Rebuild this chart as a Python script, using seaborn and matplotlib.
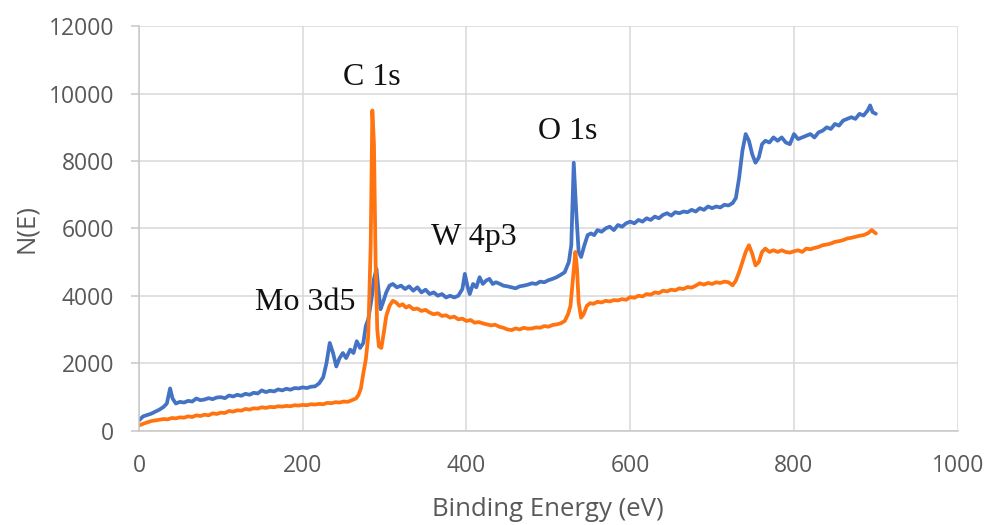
import numpy as np
import pandas as pd
import matplotlib
matplotlib.use("Agg")
import matplotlib.pyplot as plt
import seaborn as sns

# Espectro azul (amostra 1)
blue_ev = [0, 5, 10, 15, 20, 25, 30, 34, 38, 41, 45, 50, 55, 60, 65, 70, 75, 80, 85, 90,
           95, 100, 105, 110, 115, 120, 125, 130, 135, 140, 145, 150, 155, 160, 165, 170,
           175, 180, 185, 190, 195, 200, 205, 210, 215, 220, 225, 229, 233, 237, 241, 245,
           249, 253, 258, 262, 266, 270, 274, 277, 280, 284, 287, 290, 292, 295, 298, 302,
           306, 310, 315, 320, 325, 330, 335, 340, 345, 350, 355, 360, 365, 370, 375, 380,
           385, 390, 395, 398, 401, 404, 408, 412, 416, 420, 424, 428, 432, 436, 441, 445,
           450, 455, 460, 465, 470, 475, 480, 485, 490, 495, 500, 505, 510, 515, 520, 525,
           528, 531, 534, 537, 540, 544, 548, 552, 556, 560, 565, 570, 575, 580, 585, 590,
           595, 600, 605, 610, 615, 620, 625, 630, 635, 640, 645, 650, 655, 660, 665, 670,
           675, 680, 685, 690, 695, 700, 705, 710, 715, 720, 725, 729, 733, 737, 741, 745,
           749, 753, 757, 761, 765, 770, 775, 780, 785, 790, 795, 800, 805, 810, 815, 820,
           825, 830, 835, 840, 845, 850, 855, 860, 865, 870, 875, 880, 885, 890, 893, 896, 900]
blue_counts = [300, 420, 460, 500, 560, 620, 700, 800, 1250, 950, 800, 850, 830, 880, 860, 950,
               900, 920, 960, 930, 980, 990, 960, 1040, 1010, 1060, 1030, 1090, 1060, 1120,
               1100, 1190, 1140, 1180, 1160, 1220, 1190, 1240, 1210, 1260, 1250, 1280, 1260,
               1300, 1310, 1400, 1580, 2000, 2600, 2300, 1900, 2150, 2300, 2150, 2400, 2300,
               2650, 2450, 2600, 3100, 3300, 3900, 4500, 4800, 4300, 3600, 3800, 4100, 4300,
               4350, 4250, 4300, 4200, 4280, 4150, 4250, 4100, 4180, 4050, 4100, 4000, 4050,
               3950, 4000, 3950, 4000, 4200, 4650, 4300, 4050, 4350, 4250, 4550, 4350, 4450,
               4500, 4350, 4400, 4350, 4300, 4280, 4250, 4220, 4280, 4300, 4330, 4370, 4350,
               4420, 4400, 4460, 4500, 4550, 4620, 4700, 5000, 5500, 7950, 6500, 5300, 5150,
               5500, 5800, 5850, 5800, 5950, 5900, 6000, 6050, 5950, 6100, 6050, 6150, 6200,
               6150, 6250, 6200, 6300, 6250, 6350, 6300, 6400, 6450, 6380, 6480, 6450, 6500,
               6480, 6550, 6500, 6600, 6550, 6650, 6600, 6650, 6620, 6700, 6680, 6750, 6900,
               7500, 8300, 8800, 8600, 8200, 7950, 8100, 8500, 8600, 8550, 8700, 8600, 8700,
               8550, 8500, 8800, 8650, 8700, 8750, 8800, 8700, 8850, 8900, 9000, 8950, 9100,
               9050, 9200, 9250, 9300, 9250, 9400, 9350, 9500, 9650, 9450, 9400]

# Espectro laranja (amostra 2)
orange_ev = [0, 5, 10, 15, 20, 25, 30, 35, 40, 45, 50, 55, 60, 65, 70, 75, 80, 85, 90, 95,
             100, 105, 110, 115, 120, 125, 130, 135, 140, 145, 150, 155, 160, 165, 170, 175,
             180, 185, 190, 195, 200, 205, 210, 215, 220, 225, 230, 235, 240, 245, 250, 255,
             260, 265, 268, 271, 274, 277, 280, 283, 285, 287, 289, 291, 293, 296, 299, 302,
             306, 310, 314, 318, 322, 326, 330, 335, 340, 345, 350, 355, 360, 365, 370, 375,
             380, 385, 390, 395, 400, 405, 410, 415, 420, 425, 430, 435, 440, 445, 450, 455,
             460, 465, 470, 475, 480, 485, 490, 495, 500, 505, 510, 515, 520, 524, 527, 530,
             533, 535, 537, 540, 543, 547, 551, 555, 560, 565, 570, 575, 580, 585, 590, 595,
             600, 605, 610, 615, 620, 625, 630, 635, 640, 645, 650, 655, 660, 665, 670, 675,
             680, 685, 690, 695, 700, 705, 710, 715, 720, 725, 729, 733, 737, 741, 745, 749,
             753, 757, 761, 765, 770, 775, 780, 785, 790, 795, 800, 805, 810, 815, 820, 825,
             830, 835, 840, 845, 850, 855, 860, 865, 870, 875, 880, 885, 890, 895, 900]
orange_counts = [150, 200, 240, 280, 300, 320, 340, 330, 370, 360, 390, 380, 420, 400, 450,
                 430, 470, 450, 510, 490, 530, 520, 580, 560, 600, 590, 640, 620, 660, 650,
                 690, 670, 700, 690, 720, 710, 730, 720, 750, 740, 760, 750, 780, 770, 790,
                 780, 820, 810, 840, 830, 860, 850, 900, 950, 1050, 1250, 1700, 2100, 2800,
                 5500, 9500, 8500, 5000, 3000, 2500, 2450, 2900, 3400, 3700, 3850, 3800, 3700,
                 3750, 3650, 3700, 3600, 3620, 3550, 3580, 3500, 3450, 3480, 3400, 3420, 3350,
                 3380, 3300, 3320, 3250, 3280, 3200, 3220, 3180, 3150, 3120, 3140, 3080, 3050,
                 3000, 2980, 3030, 3000, 3050, 3020, 3030, 3060, 3050, 3100, 3080, 3130, 3150,
                 3180, 3250, 3450, 3700, 4500, 5300, 4800, 3800, 3350, 3450, 3700, 3780, 3760,
                 3820, 3800, 3850, 3830, 3870, 3860, 3900, 3880, 3960, 3940, 4000, 3980, 4050,
                 4030, 4100, 4080, 4150, 4130, 4180, 4160, 4220, 4200, 4260, 4240, 4300, 4370,
                 4330, 4380, 4350, 4400, 4380, 4420, 4400, 4310, 4450, 4700, 5000, 5300, 5500,
                 5250, 4900, 5000, 5300, 5400, 5300, 5350, 5300, 5350, 5300, 5280, 5320, 5350,
                 5300, 5400, 5380, 5420, 5450, 5500, 5520, 5550, 5600, 5620, 5650, 5700, 5720,
                 5750, 5780, 5800, 5850, 5950, 5850]

# Rotulos dos picos
pico_nomes = ["C 1s", "O 1s", "W 4p3", "Mo 3d5"]
pico_x = [284.5, 524, 409, 203]
pico_y = [10250, 8650, 5500, 3570]

sns.set_theme(style="white")
plt.rcParams["font.family"] = ["Open Sans", "DejaVu Sans"]

fig = plt.figure(figsize=(9.9, 5.25), dpi=100)
ax = fig.add_axes([0.1404, 0.180, 0.827, 0.770])

sns.lineplot(x=blue_ev, y=blue_counts, color="#4472C4", linewidth=2.7, ax=ax, estimator=None)
sns.lineplot(x=orange_ev, y=orange_counts, color="#FF7410", linewidth=2.7, ax=ax, estimator=None)

for nome, px, py in zip(pico_nomes, pico_x, pico_y):
    ax.text(px, py, nome, ha="center", va="baseline", fontsize=23,
            family=["Liberation Serif", "DejaVu Serif"], color="#111111")

ax.set_xlim(0, 1000)
ax.set_ylim(0, 12000)
ax.set_xticks(np.arange(0, 1001, 200))
ax.set_yticks(np.arange(0, 12001, 2000))
ax.grid(True, color="#d9d9d9", linewidth=1.1)
ax.set_axisbelow(True)

for s in ["top", "right"]:
    ax.spines[s].set_visible(False)
for s in ["left", "bottom"]:
    ax.spines[s].set_color("#c8c8c8")
    ax.spines[s].set_linewidth(1.1)

ax.tick_params(axis="y", length=6, width=1.1, color="#c8c8c8", pad=12,
               labelsize=16.5, labelcolor="#595959", left=True)
ax.tick_params(axis="x", length=0, pad=17, labelsize=16.5, labelcolor="#595959")

ax.set_xlabel("Binding Energy (eV)", fontsize=18.5, color="#595959")
ax.set_ylabel("N(E)", fontsize=18.5, color="#595959")
ax.xaxis.set_label_coords(0.5, -0.1965)
ax.xaxis.label.set_va("center")
ax.yaxis.set_label_coords(-0.138, 0.5)
ax.yaxis.label.set_va("center")

fig.savefig("out.png", dpi=100)
